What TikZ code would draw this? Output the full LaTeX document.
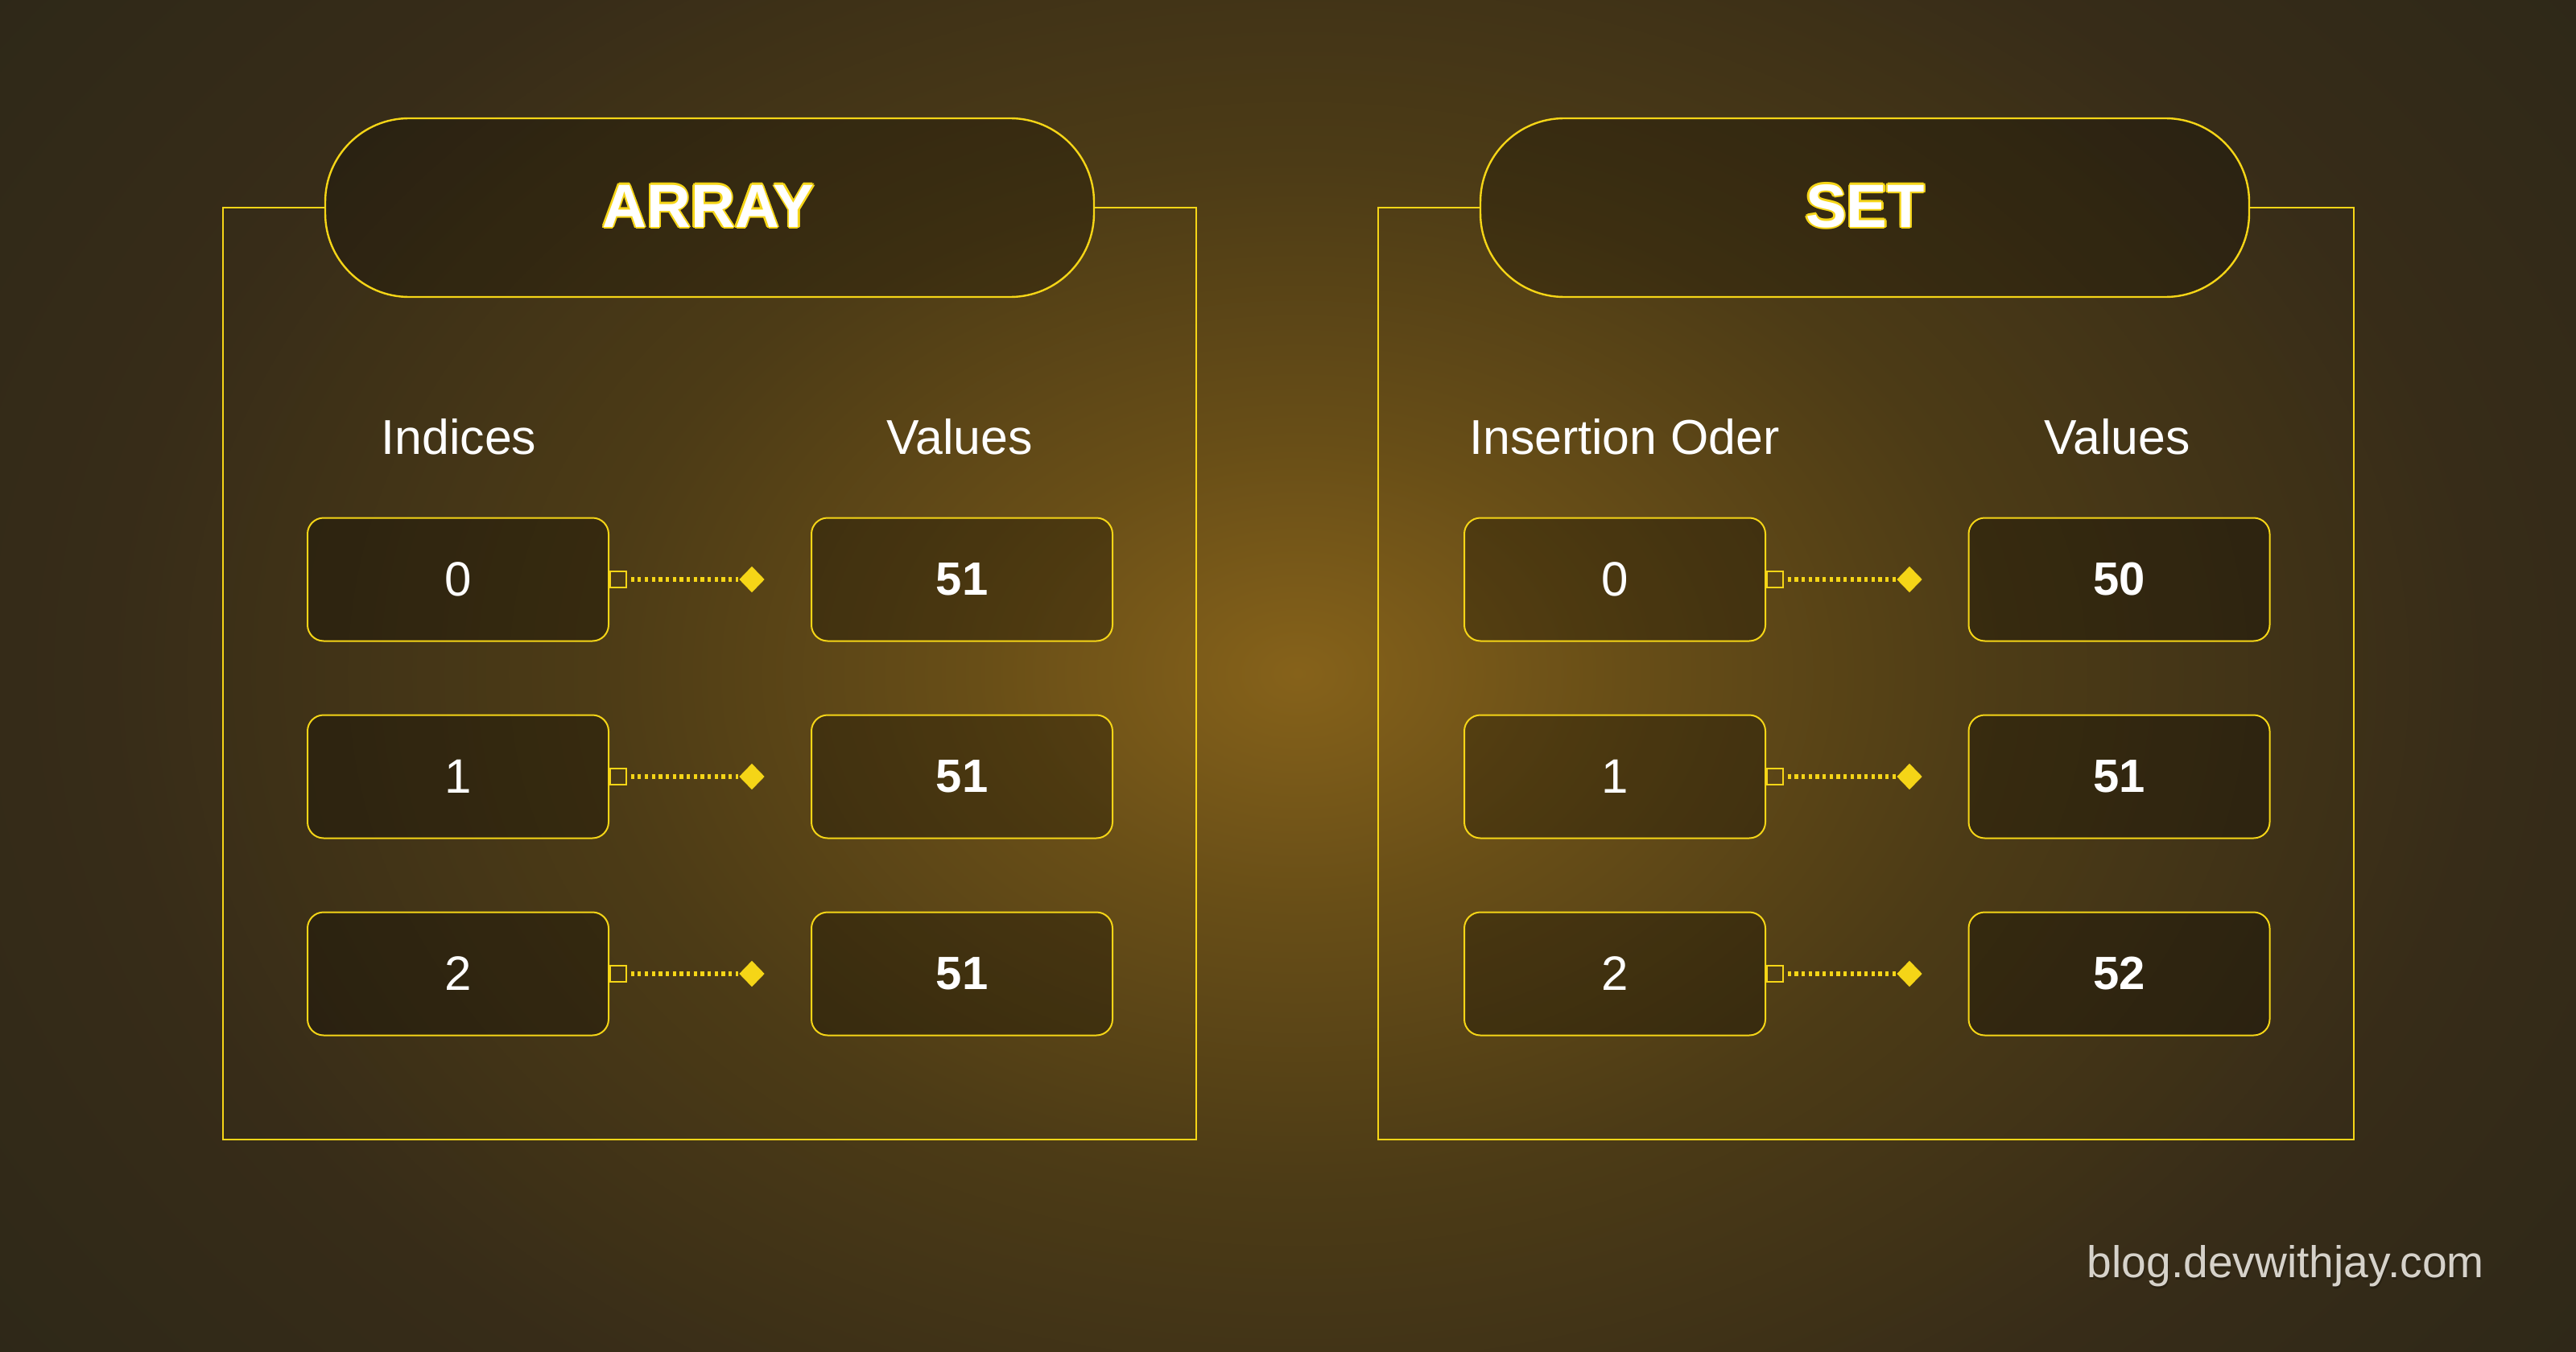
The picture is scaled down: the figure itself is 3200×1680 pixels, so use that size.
\documentclass[tikz,border=0pt]{standalone}
\usepackage{fontspec}
\setmainfont{Liberation Sans}
\usetikzlibrary{shapes.geometric}
\definecolor{ylw}{HTML}{F5D517}
\definecolor{bgA}{HTML}{86621A}
\definecolor{bgB}{HTML}{684E17}
\definecolor{bgC}{HTML}{4C3B16}
\definecolor{bgD}{HTML}{372C18}
\definecolor{bgE}{HTML}{2E2818}
\definecolor{wmark}{HTML}{D6D2CA}
\pgfdeclareradialshading{bgglow}{\pgfpoint{0bp}{0bp}}{color(0bp)=(bgA); color(5bp)=(bgB); color(11bp)=(bgC); color(18.5bp)=(bgD); color(25bp)=(bgE); color(50bp)=(bgE)}
\newcommand\ocopy[3]{\rlap{\kern#1\raisebox{#2}{\textcolor{ylw}{#3}}}}
\newcommand\outlined[1]{\ocopy{0.55pt}{0pt}{#1}\ocopy{-0.55pt}{0pt}{#1}\ocopy{0pt}{0.55pt}{#1}\ocopy{0pt}{-0.55pt}{#1}\ocopy{0.4pt}{0.4pt}{#1}\ocopy{-0.4pt}{0.4pt}{#1}\ocopy{0.4pt}{-0.4pt}{#1}\ocopy{-0.4pt}{-0.4pt}{#1}\textcolor{white}{#1}}
\begin{document}
\begin{tikzpicture}[x=0.25pt,y=-0.25pt,
  ln/.style={draw=ylw, line width=0.55pt},
  cell/.style={draw=ylw, line width=0.5pt, rounded corners=5pt, fill=black, fill opacity=0.28, text opacity=1, text=white, minimum width=93.5pt, minimum height=38.25pt, inner sep=0pt, font=\fontsize{15}{18}\selectfont},
  valcell/.style={cell, font=\fontsize{14.5}{18}\selectfont\bfseries},
  pill/.style={draw=ylw, line width=0.6pt, rounded corners=26pt, fill=black, fill opacity=0.22, minimum width=238.75pt, minimum height=55.5pt, inner sep=0pt},
  title/.style={inner sep=0pt, font=\fontsize{19}{23}\selectfont\bfseries},
  hdr/.style={text=white, font=\fontsize{15.2}{18}\selectfont, inner sep=0pt},
  sq/.style={draw=ylw, line width=0.45pt, minimum size=5pt, inner sep=0pt, anchor=west},
  dia/.style={diamond, fill=ylw, minimum width=8pt, minimum height=8.25pt, inner sep=0pt},
  dots/.style={draw=ylw, line width=1.3pt, dash pattern=on 1.05pt off 1.12pt, shorten <=1.2pt}
]
\useasboundingbox (0,0) rectangle (3200,1680);
\fill[bgE] (0,0) rectangle (3200,1680);
\begin{scope}
\clip (0,0) rectangle (3200,1680);
\shade[shading=bgglow] (1612,837) ellipse [x radius=2000, y radius=1450];
\end{scope}

% pills
\node[pill] (pA) at (881.5,258) {};
\node[pill] (pS) at (2316.5,258) {};
\node[title] (tA) at (880,256) {\outlined{ARRAY}};
\node[title] (tS) at (2317,256) {\outlined{SET}};

% outer frames
\draw[ln] (pA.west) -- (277,258) -- (277,1416) -- (1486,1416) -- (1486,258) -- (pA.east);
\draw[ln] (pS.west) -- (1712,258) -- (1712,1416) -- (2924,1416) -- (2924,258) -- (pS.east);

% headers
\node[hdr] (hA1) at (570,543) {Indices};
\node[hdr] (hA2) at (1192,543) {Values};
\node[hdr] (hS1) at (2018,543) {Insertion Oder};
\node[hdr] (hS2) at (2630,543) {Values};

% array cells
\node[cell] (ai0) at (569,720) {0};
\node[cell] (ai1) at (569,965) {1};
\node[cell] (ai2) at (569,1210) {2};
\node[valcell] (av0) at (1195,720) {51};
\node[valcell] (av1) at (1195,965) {51};
\node[valcell] (av2) at (1195,1210) {51};
% set cells
\node[cell] (si0) at (2006,720) {0};
\node[cell] (si1) at (2006,965) {1};
\node[cell] (si2) at (2006,1210) {2};
\node[valcell] (sv0) at (2632.5,720) {50};
\node[valcell] (sv1) at (2632.5,965) {51};
\node[valcell] (sv2) at (2632.5,1210) {52};

% connectors
\foreach \p/\dx in {ai0/934, ai1/934, ai2/934, si0/2372, si1/2372, si2/2372}{
  \node[sq] (\p q) at (\p.east) {};
  \node[dia] (\p d) at (\dx,0 |- \p.east) {};
  \draw[dots] (\p q.east) -- (\p d.west);
}

% watermark
\node[anchor=base west, inner sep=0pt, text=black, opacity=0.2, font=\fontsize{13.8}{16}\selectfont] (wms) at (2593,1590) {blog.devwithjay.com};
\node[anchor=base west, inner sep=0pt, text=wmark, font=\fontsize{13.8}{16}\selectfont] (wm) at (2592,1587) {blog.devwithjay.com};
\end{tikzpicture}
\end{document}
